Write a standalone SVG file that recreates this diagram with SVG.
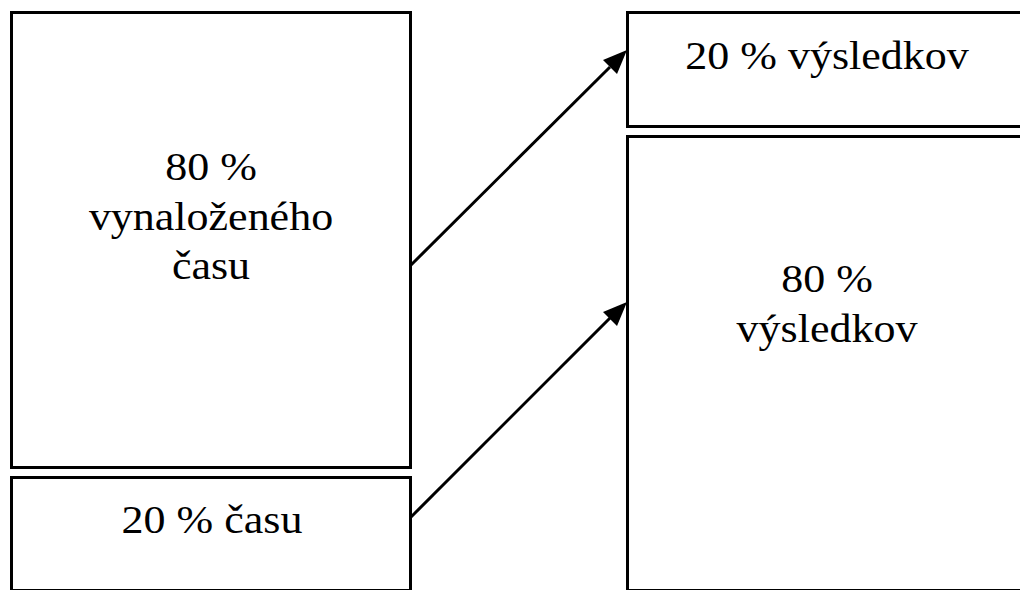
<svg xmlns="http://www.w3.org/2000/svg" width="1020" height="590" viewBox="0 0 1020 590">
<defs>
<style>
.box{fill:#fff;stroke:#000;stroke-width:3}
.t{font-family:"Liberation Serif","Times New Roman",serif;font-size:40px;fill:#000;text-anchor:middle}
.c{stroke:#000;stroke-width:3;fill:none}
</style>
</defs>
<rect width="1020" height="590" fill="#fff"/>
<g id="time80">
<rect class="box" x="11.5" y="12.5" width="399" height="455"/>
<text class="t" transform="translate(211,180) scale(1.1,1)">80 %</text>
<text class="t" transform="translate(211,230) scale(1.1,1)">vynaloženého</text>
<text class="t" transform="translate(211,279) scale(1.1,1)">času</text>
</g>
<g id="time20">
<rect class="box" x="11.5" y="477.5" width="399" height="113"/>
<text class="t" transform="translate(212,533) scale(1.1,1)">20 % času</text>
</g>
<g id="res20">
<rect class="box" x="627.5" y="12.5" width="400" height="114"/>
<text class="t" transform="translate(827,69) scale(1.1,1)">20 % výsledkov</text>
</g>
<g id="res80">
<rect class="box" x="627.5" y="136.5" width="400" height="454"/>
<text class="t" transform="translate(827,292) scale(1.1,1)">80 %</text>
<text class="t" transform="translate(827,342) scale(1.1,1)">výsledkov</text>
</g>
<g id="connectors">
<path class="c" d="M411,265 L610,67"/>
<path d="M627,50 L603,60 L617,74 Z" fill="#000"/>
<path class="c" d="M411,517 L610,318"/>
<path d="M627,302 L603,312 L617,326 Z" fill="#000"/>
</g>
</svg>
